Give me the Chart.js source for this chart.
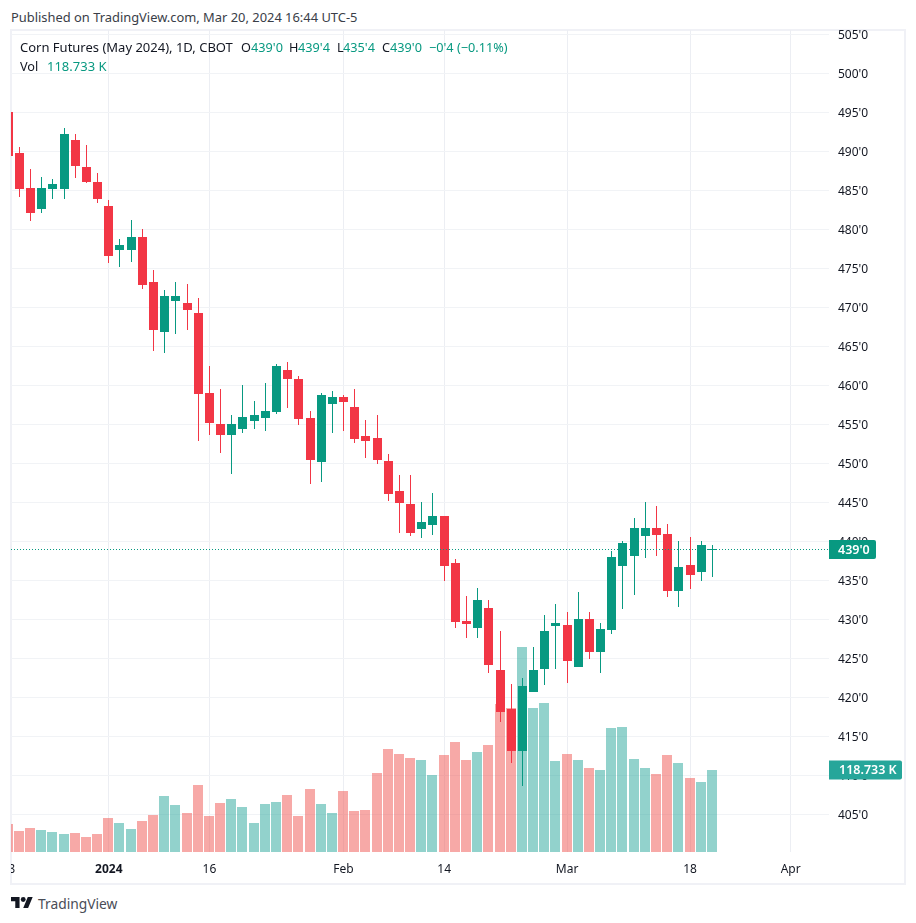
<!DOCTYPE html>
<html>
<head>
<meta charset="utf-8">
<script src="https://cdn.jsdelivr.net/npm/chart.js@4/dist/chart.umd.min.js"></script>
<style>
html,body{margin:0;padding:0;background:#fff;width:916px;height:923px;overflow:hidden;font-family:"Noto Sans",sans-serif;}
#frame{position:absolute;left:10px;top:29px;width:892px;height:852px;border:2px solid #f0f1f6;}
#c{position:absolute;left:11px;top:30px;}
.t{position:absolute;font-size:12.7px;line-height:16px;color:#131722;white-space:pre;}
.g{color:#089981;}
#pub{left:11px;top:9px;font-size:12.9px;color:#3a3e48;}
#tv{left:38px;top:894px;font-size:13.8px;line-height:20px;color:#4a4d57;}
#logo{position:absolute;left:11px;top:897px;}
</style>
</head>
<body>
<div id="frame"></div>
<canvas id="c" width="894" height="853" style="width:894px;height:853px"></canvas>
<div class="t" id="pub">Published on TradingView.com, Mar 20, 2024 16:44 UTC-5</div>
<div class="t" style="left:20px;top:39px;font-size:13px">Corn Futures (May 2024), 1D, CBOT</div>
<div class="t" style="left:241px;top:39px">O</div><div class="t g" style="left:251px;top:39px">439'0</div>
<div class="t" style="left:289px;top:39px">H</div><div class="t g" style="left:298px;top:39px">439'4</div>
<div class="t" style="left:337px;top:39px">L</div><div class="t g" style="left:343px;top:39px">435'4</div>
<div class="t" style="left:382px;top:39px">C</div><div class="t g" style="left:390px;top:39px">439'0</div>
<div class="t g" style="left:429px;top:39px">−0'4 (−0.11%)</div>
<div class="t" style="left:20px;top:58px">Vol</div><div class="t g" style="left:47px;top:58px;font-size:13px">118.733 K</div>
<svg id="logo" width="22" height="11" viewBox="0 4 36 18"><path fill="#131722" d="M14 22H7V11H0V4h14v18zM28 22h-8l7.5-18h8L28 22z"/><circle fill="#131722" cx="20" cy="8" r="4"/></svg>
<div class="t" id="tv">TradingView</div>
<script>
// Trading days, first entry is the partly hidden session at the left edge
const dates = ["Dec 18","Dec 19","Dec 20","Dec 21","Dec 22","Dec 26","Dec 27","Dec 28","Dec 29","Jan 2","Jan 3","Jan 4","Jan 5","Jan 8","Jan 9","Jan 10","Jan 11","Jan 12","Jan 16","Jan 17","Jan 18","Jan 19","Jan 22","Jan 23","Jan 24","Jan 25","Jan 26","Jan 29","Jan 30","Jan 31","Feb 1","Feb 2","Feb 5","Feb 6","Feb 7","Feb 8","Feb 9","Feb 12","Feb 13","Feb 14","Feb 15","Feb 16","Feb 20","Feb 21","Feb 22","Feb 23","Feb 26","Feb 27","Feb 28","Feb 29","Mar 1","Mar 4","Mar 5","Mar 6","Mar 7","Mar 8","Mar 11","Mar 12","Mar 13","Mar 14","Mar 15","Mar 18","Mar 19","Mar 20"];
const opens  = [495,489.75,485.25,482.75,485.25,485.25,491.5,488,486,483,477.5,477.5,479,473.25,467,471,470.5,469.25,459,455,453.75,454.5,455.5,456,456.75,462,460.75,455.75,450.25,457.75,458.5,457.25,453.5,453.25,450.25,446.5,444.75,441.75,442.25,443.25,437.25,429.75,429,431.5,423.5,418.5,413.25,420.75,423.75,429.25,429.25,424,430,426,428.75,437,438.25,440.75,441.75,441,433.75,437,436.25,439];
const highs  = [495,490.5,487.75,486.75,486.5,493,492.25,490.75,487.25,483.75,478.75,481.25,480,474.75,472.25,473.25,473,471.25,462.5,459.5,456.25,460,458,460.25,462.75,463,461.25,456.75,459,459.25,458.75,459.5,455.5,456.25,451.25,448.5,448.5,445,446.25,443.25,437.75,433,434,432.5,428.5,421.75,422.5,426.5,430.5,432,431,433.5,431,429.5,438.75,440,443,445,444.5,442.25,440,440.5,440,439.5];
const lows   = [489.5,484.25,481.25,482.25,484,484,486.75,486,483.5,475.75,475.25,476,472.5,464.5,464.25,466.75,467.25,453,453.75,451.5,448.75,454,454.5,454.25,456.5,457.25,455,447.5,447.75,454,454.25,452.75,450.75,450,445.25,441.25,440.75,440.5,441,435,429,427.75,427.75,423.25,417,411.75,408.75,420.75,421.75,423.75,422,424,425,423.25,428.25,431.5,433.25,438,438.25,433,431.75,434,435,435.5];
const closes = [489.5,485.25,482.25,485.25,485.75,492.25,488.25,486.25,484,476.75,478,479,473,467.25,471.5,471.5,469.75,459,455.25,453.75,455,456,456.25,456.75,462.5,461,455.75,450.5,458.75,458.5,458,453.25,453,450.5,446.25,445,441.25,442.5,443.25,437,429.75,429.5,432.5,424.25,418.25,413.25,421.5,423.5,428.5,429.5,424.75,430,426,428.75,438,439.75,441.75,441.75,441,433.75,436.75,435.75,439.5,439];
// Volume in thousands of contracts
const volumes = [40.5,30.4,34.8,31.9,29.0,26.1,27.5,21.7,26.1,49.2,42.0,33.3,44.9,53.6,81.1,68.1,56.5,97.0,52.1,71.0,76.8,65.2,42.0,69.5,72.4,82.5,52.1,91.2,69.5,56.5,88.3,59.4,60.8,114.4,149.2,141.9,136.1,133.2,111.5,140.5,159.3,133.2,144.8,154.9,214.3,208.5,296.9,208.5,215.8,131.8,141.9,133.2,121.6,118.7,179.6,181.0,134.7,121.6,113.0,140.5,128.9,107.2,101.4,118.733];
const priceTicks = [405,410,415,420,425,430,435,440,445,450,455,460,465,470,475,480,485,490,495,500,505];
const timeTickLabels = ["18","2024","16","Feb","14","Mar","18","Apr"];
const timeTickSlots  = [-1,8,17,29,38,49,60,69];
const lastPrice = 439;
const lastVolume = 118.733;

const UP="#089981", DOWN="#F23645", VUP="rgba(38,166,154,0.5)", VDOWN="rgba(239,83,80,0.5)";
const FONT='"Noto Sans", sans-serif';
const slots = dates.map((d,i)=>i-1);
const isUp = i => closes[i]>=opens[i];
const candleColors = dates.map((d,i)=>isUp(i)?UP:DOWN);
const volumeColors = dates.map((d,i)=>isUp(i)?VUP:VDOWN);

// snaps the bars that the library has laid out onto whole device pixels
const snap = {
  id:'snap',
  afterDatasetsUpdate(chart){
    chart.data.datasets.forEach((ds,di)=>{
      chart.getDatasetMeta(di).data.forEach(el=>{
        const top=Math.round(Math.min(el.y,el.base)), bot=Math.round(Math.max(el.y,el.base));
        if(ds.kind==='vol'){ el.x=Math.floor(el.x); el.y=top; el.base=bot; }
        else { el.x=Math.floor(el.x)+0.5; el.y=top; el.base=bot+1; }
      });
    });
  }
};
const lastMarks = {
  id:'lastMarks',
  afterDraw(chart){
    const {ctx,chartArea:a,scales}=chart;
    const py=Math.round(scales.y.getPixelForValue(lastPrice))+0.5;
    const vy=Math.round(scales.vol.getPixelForValue(lastVolume));
    ctx.save();
    ctx.strokeStyle=UP; ctx.lineWidth=1; ctx.setLineDash([1,2]);
    ctx.beginPath(); ctx.moveTo(a.left,py); ctx.lineTo(a.right,py); ctx.stroke();
    ctx.setLineDash([]);
    ctx.font='600 12.5px '+FONT; ctx.textBaseline='middle';
    ctx.fillStyle=UP; ctx.beginPath(); ctx.roundRect(a.right,py-9.5,47,19,[0,2,2,0]); ctx.fill();
    ctx.fillStyle='#fff'; ctx.fillText(lastPrice+"'0",a.right+9,py+0.5);
    ctx.fillStyle='#26a69a'; ctx.beginPath(); ctx.roundRect(a.right,vy-9.5,73,19,[0,2,2,0]); ctx.fill();
    ctx.fillStyle='#fff'; ctx.fillText(lastVolume.toFixed(3)+' K',a.right+10,vy+0.5);
    ctx.restore();
  }
};

new Chart(document.getElementById('c'),{
  type:'bar',
  plugins:[snap,lastMarks],
  data:{datasets:[
    {kind:'body',label:'Body',data:slots.map((x,i)=>({x,y:[opens[i],closes[i]]})),backgroundColor:candleColors,barThickness:9,minBarLength:0.5,grouped:false,yAxisID:'y',order:1,inflateAmount:0,borderWidth:0},
    {kind:'wick',label:'Wick',data:slots.map((x,i)=>({x,y:[lows[i],highs[i]]})),backgroundColor:candleColors,barThickness:1,grouped:false,yAxisID:'y',order:2,inflateAmount:0,borderWidth:0},
    {kind:'vol',label:'Vol',data:slots.map((x,i)=>({x,y:volumes[i]})),backgroundColor:volumeColors,barThickness:10,grouped:false,yAxisID:'vol',order:3,inflateAmount:0,borderWidth:0}
  ]},
  options:{
    responsive:false,animation:false,devicePixelRatio:1,events:[],
    layout:{padding:0},
    plugins:{legend:{display:false},tooltip:{enabled:false},title:{display:false}},
    scales:{
      x:{
        type:'linear',min:-0.7515,max:72.43,offset:false,
        border:{display:false},
        grid:{color:'#eceef3',drawTicks:false,lineWidth:1,offset:false},
        afterBuildTicks(s){s.ticks=timeTickSlots.map(v=>({value:v}));},
        afterFit(s){s.height=31;s.paddingLeft=0;s.paddingRight=0;},
        ticks:{
          autoSkip:false,maxRotation:0,minRotation:0,padding:10,color:'#131722',
          font:c=>({family:FONT,size:12,weight:c.tick&&c.tick.value===8?'bold':'normal'}),
          callback:v=>timeTickLabels[timeTickSlots.indexOf(v)]
        }
      },
      y:{
        type:'linear',position:'right',min:400.17,max:505.55,
        border:{display:false},
        grid:{color:'#f1f3f6',drawTicks:false,lineWidth:1},
        afterBuildTicks(s){s.ticks=priceTicks.map(v=>({value:v}));},
        afterFit(s){s.width=76;s.paddingTop=0;s.paddingBottom=0;},
        ticks:{padding:9,labelOffset:1,color:'#131722',font:{family:FONT,size:12},autoSkip:false,callback:v=>v+"'0"}
      },
      vol:{type:'linear',display:false,min:0,max:1190,grid:{display:false}}
    }
  }
});
</script>
</body>
</html>
